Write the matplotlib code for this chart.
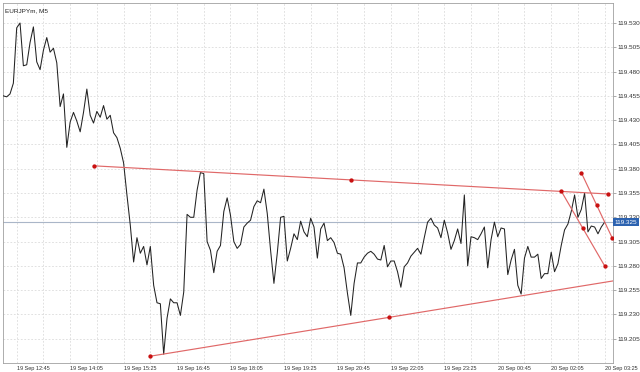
import numpy as np
import matplotlib
matplotlib.use("Agg")
import matplotlib.pyplot as plt

# EURJPYm M5 closes, one per bar (19 Sep 12:25 -> 20 Sep 03:25)
closes = [
    119.455, 119.454, 119.457, 119.468, 119.525, 119.530, 119.486, 119.487, 119.510, 119.526,
    119.490, 119.482, 119.502, 119.515, 119.500, 119.504, 119.489, 119.444, 119.457, 119.402,
    119.428, 119.438, 119.429, 119.418, 119.438, 119.462, 119.435, 119.427, 119.439, 119.433,
    119.445, 119.431, 119.435, 119.417, 119.412, 119.401, 119.386, 119.353, 119.322, 119.284,
    119.309, 119.293, 119.300, 119.281, 119.300, 119.260, 119.242, 119.241, 119.189, 119.226,
    119.246, 119.242, 119.242, 119.229, 119.253, 119.333, 119.330, 119.330, 119.358, 119.376,
    119.375, 119.305, 119.296, 119.273, 119.295, 119.301, 119.336, 119.350, 119.332, 119.305,
    119.298, 119.302, 119.320, 119.324, 119.327, 119.341, 119.347, 119.345, 119.359, 119.334,
    119.296, 119.262, 119.293, 119.330, 119.331, 119.285, 119.298, 119.313, 119.307, 119.326,
    119.315, 119.310, 119.329, 119.320, 119.288, 119.318, 119.324, 119.306, 119.309, 119.304,
    119.293, 119.292, 119.278, 119.252, 119.229, 119.262, 119.283, 119.283, 119.289, 119.293,
    119.295, 119.292, 119.287, 119.286, 119.301, 119.279, 119.285, 119.285, 119.274, 119.258,
    119.279, 119.283, 119.290, 119.294, 119.298, 119.292, 119.309, 119.325, 119.329, 119.322,
    119.319, 119.309, 119.327, 119.314, 119.297, 119.306, 119.318, 119.303, 119.353, 119.280,
    119.310, 119.309, 119.307, 119.313, 119.320, 119.278, 119.307, 119.325, 119.310, 119.319,
    119.318, 119.271, 119.286, 119.297, 119.260, 119.251, 119.288, 119.300, 119.289, 119.289,
    119.292, 119.267, 119.272, 119.272, 119.294, 119.274, 119.282, 119.301, 119.317, 119.323,
    119.336, 119.353, 119.330, 119.338, 119.355, 119.315, 119.321, 119.320, 119.313, 119.320,
    119.325,
]
bid = 119.325

time_labels = ["19 Sep 12:45", "19 Sep 14:05", "19 Sep 15:25", "19 Sep 16:45",
               "19 Sep 18:05", "19 Sep 19:25", "19 Sep 20:45", "19 Sep 22:05",
               "19 Sep 23:25", "20 Sep 00:45", "20 Sep 02:05", "20 Sep 03:25"]
time_label_bars = [4, 20, 36, 52, 68, 84, 100, 116, 132, 148, 164, 180]

# trend lines: (bar, price) anchors
upper_line = [(27, 119.383), (181, 119.354)]
lower_line = [(44, 119.187), (187, 119.267)]
channel_a = [(167, 119.357), (180, 119.280)]
channel_b = [(173, 119.376), (182.3, 119.3085)]

fig = plt.figure(figsize=(6.4, 3.72), dpi=100)
ax = fig.add_axes([3 / 640, 9 / 372, 610 / 640, 360 / 372])

bars = np.arange(len(closes))
ax.plot(bars, closes, color="#222222", lw=0.75, zorder=3)

ax.axhline(bid, color="#aab6c8", lw=0.8, zorder=2)

for line in [upper_line, lower_line, channel_a, channel_b]:
    (x0, y0), (x1, y1) = line
    ax.plot([x0, x1], [y0, y1], color="#e06868", lw=0.85, zorder=4)
    ax.plot([x0, (x0 + x1) / 2, x1], [y0, (y0 + y1) / 2, y1], "o",
            color="#c81010", ms=2.1, zorder=5)

ax.set_xlim(-0.1, 182.5)
ax.set_ylim(119.180, 119.5506)

font = "Liberation Sans"
fs = 4.6
ax.yaxis.tick_right()
ax.set_yticks(np.arange(119.205, 119.531, 0.025))
ax.set_yticklabels([f"{v:.3f}" for v in np.arange(119.205, 119.531, 0.025)],
                   fontsize=fs, family=font, color="#333333")
ax.set_xticks(time_label_bars)
ax.set_xticklabels(time_labels, fontsize=4.0, family=font, color="#333333", ha="left")
ax.set_xticks(np.arange(12, 181, 16), minor=True)
ax.tick_params(axis="y", length=2, pad=1, width=0.5, colors="#888888", labelcolor="#333333")
ax.tick_params(axis="x", which="both", length=0, pad=2.5)

ax.grid(True, which="both", color="#d4d4d4", ls=(0, (2.5, 2.5)), lw=0.5)
for s in ax.spines.values():
    s.set_color("#a0a0a0")
    s.set_linewidth(0.6)

ax.text(0.004, 0.985, "EURJPYm, M5", transform=ax.transAxes, fontsize=fs,
        family=font, va="top", ha="left", color="#222222")

ax.annotate(f"{bid:.3f}", xy=(1, bid), xycoords=("axes fraction", "data"),
            xytext=(1.2, 0), textcoords="offset points", va="center", ha="left",
            fontsize=fs, family=font, color="white", zorder=10,
            bbox=dict(boxstyle="square,pad=0.2", fc="#2c62b0", ec="none"),
            annotation_clip=False)

fig.savefig("out.png", dpi=100, facecolor="white")
